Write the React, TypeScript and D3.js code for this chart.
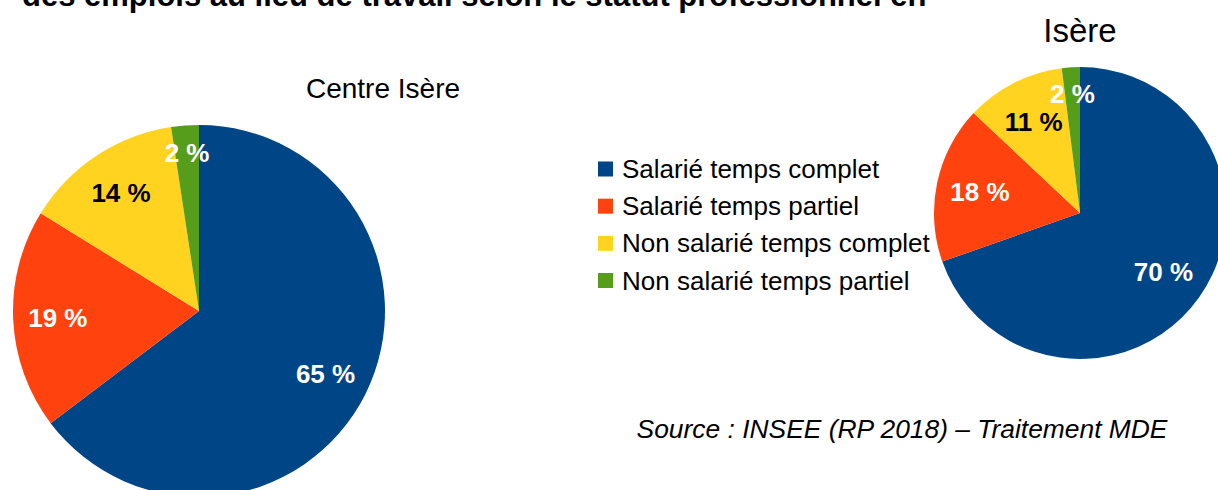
import * as d3 from 'd3'

const CATEGORIES = [
  'Salarié temps complet',
  'Salarié temps partiel',
  'Non salarié temps complet',
  'Non salarié temps partiel',
]
const COLORS = ['#004586', '#ff420e', '#ffd320', '#579d1c']
const LABEL_COLORS = ['#ffffff', '#ffffff', '#000000', '#ffffff']

// shares, labels as printed
const CENTRE_VALUES = [64.7, 19.1, 13.8, 2.4]
const CENTRE_LABELS = ['65 %', '19 %', '14 %', '2 %']
const ISERE_VALUES = [69.6, 17.4, 11.0, 2.0]
const ISERE_LABELS = ['70 %', '18 %', '11 %', '2 %']

const TITLE = 'des emplois au lieu de travail selon le statut professionnel en'
const SOURCE = 'Source : INSEE (RP 2018) – Traitement MDE'

const FONT = '"Liberation Sans", Arial, sans-serif'

function Pie({ cx, cy, radius, values, labels, title, titleX, titleY, titleSize, labelFactor, smallFactor }) {
  const pie = d3.pie<number>().sort(null).value(d => d)
  const arcs = pie(values)
  const arc = d3.arc<d3.PieArcDatum<number>>().innerRadius(0).outerRadius(radius)

  return (
    <g>
      <text x={titleX} y={titleY} textAnchor="middle" fontSize={titleSize} fill="#000">
        {title}
      </text>
      <g transform={`translate(${cx},${cy})`}>
        {arcs.map((a, i) => (
          <path key={i} d={arc(a) || ''} fill={COLORS[i]} />
        ))}
        {arcs.map((a, i) => {
          // tiny slices get their label pushed toward the rim
          const f = a.data < 5 ? smallFactor : labelFactor
          const [x, y] = d3
            .arc<d3.PieArcDatum<number>>()
            .innerRadius(radius * f)
            .outerRadius(radius * f)
            .centroid(a)
          return (
            <text
              key={i}
              x={x}
              y={y}
              textAnchor="middle"
              dominantBaseline="central"
              fontSize={26}
              fontWeight="bold"
              fill={LABEL_COLORS[i]}
            >
              {labels[i]}
            </text>
          )
        })}
      </g>
    </g>
  )
}

export default function App() {
  const width = 1218
  const height = 490

  const legendY = d3.scalePoint<string>().domain(CATEGORIES).range([169, 280.5])

  return (
    <svg
      width={width}
      height={height}
      style={{ position: 'absolute', left: 0, top: 0, background: '#fff' }}
      fontFamily={FONT}
    >
      <rect width={width} height={height} fill="#fff" />

      <text x={22} y={6} fontSize={31} fontWeight="bold" fill="#000">
        {TITLE}
      </text>

      <Pie
        cx={199}
        cy={311}
        radius={186}
        values={CENTRE_VALUES}
        labels={CENTRE_LABELS}
        title="Centre Isère"
        titleX={383}
        titleY={98}
        titleSize={28}
        labelFactor={0.76}
        smallFactor={0.85}
      />

      <Pie
        cx={1080}
        cy={213}
        radius={146}
        values={ISERE_VALUES}
        labels={ISERE_LABELS}
        title="Isère"
        titleX={1080}
        titleY={42}
        titleSize={33}
        labelFactor={0.7}
        smallFactor={0.82}
      />

      <g>
        {CATEGORIES.map((c, i) => (
          <g key={c} transform={`translate(598,${legendY(c)})`}>
            <rect x={0} y={-7.5} width={15} height={15} fill={COLORS[i]} />
            <text x={24} y={9} fontSize={26} fill="#000">
              {c}
            </text>
          </g>
        ))}
      </g>

      <text x={902} y={438} textAnchor="middle" fontSize={26.4} fontStyle="italic" fill="#000">
        {SOURCE}
      </text>
    </svg>
  )
}
